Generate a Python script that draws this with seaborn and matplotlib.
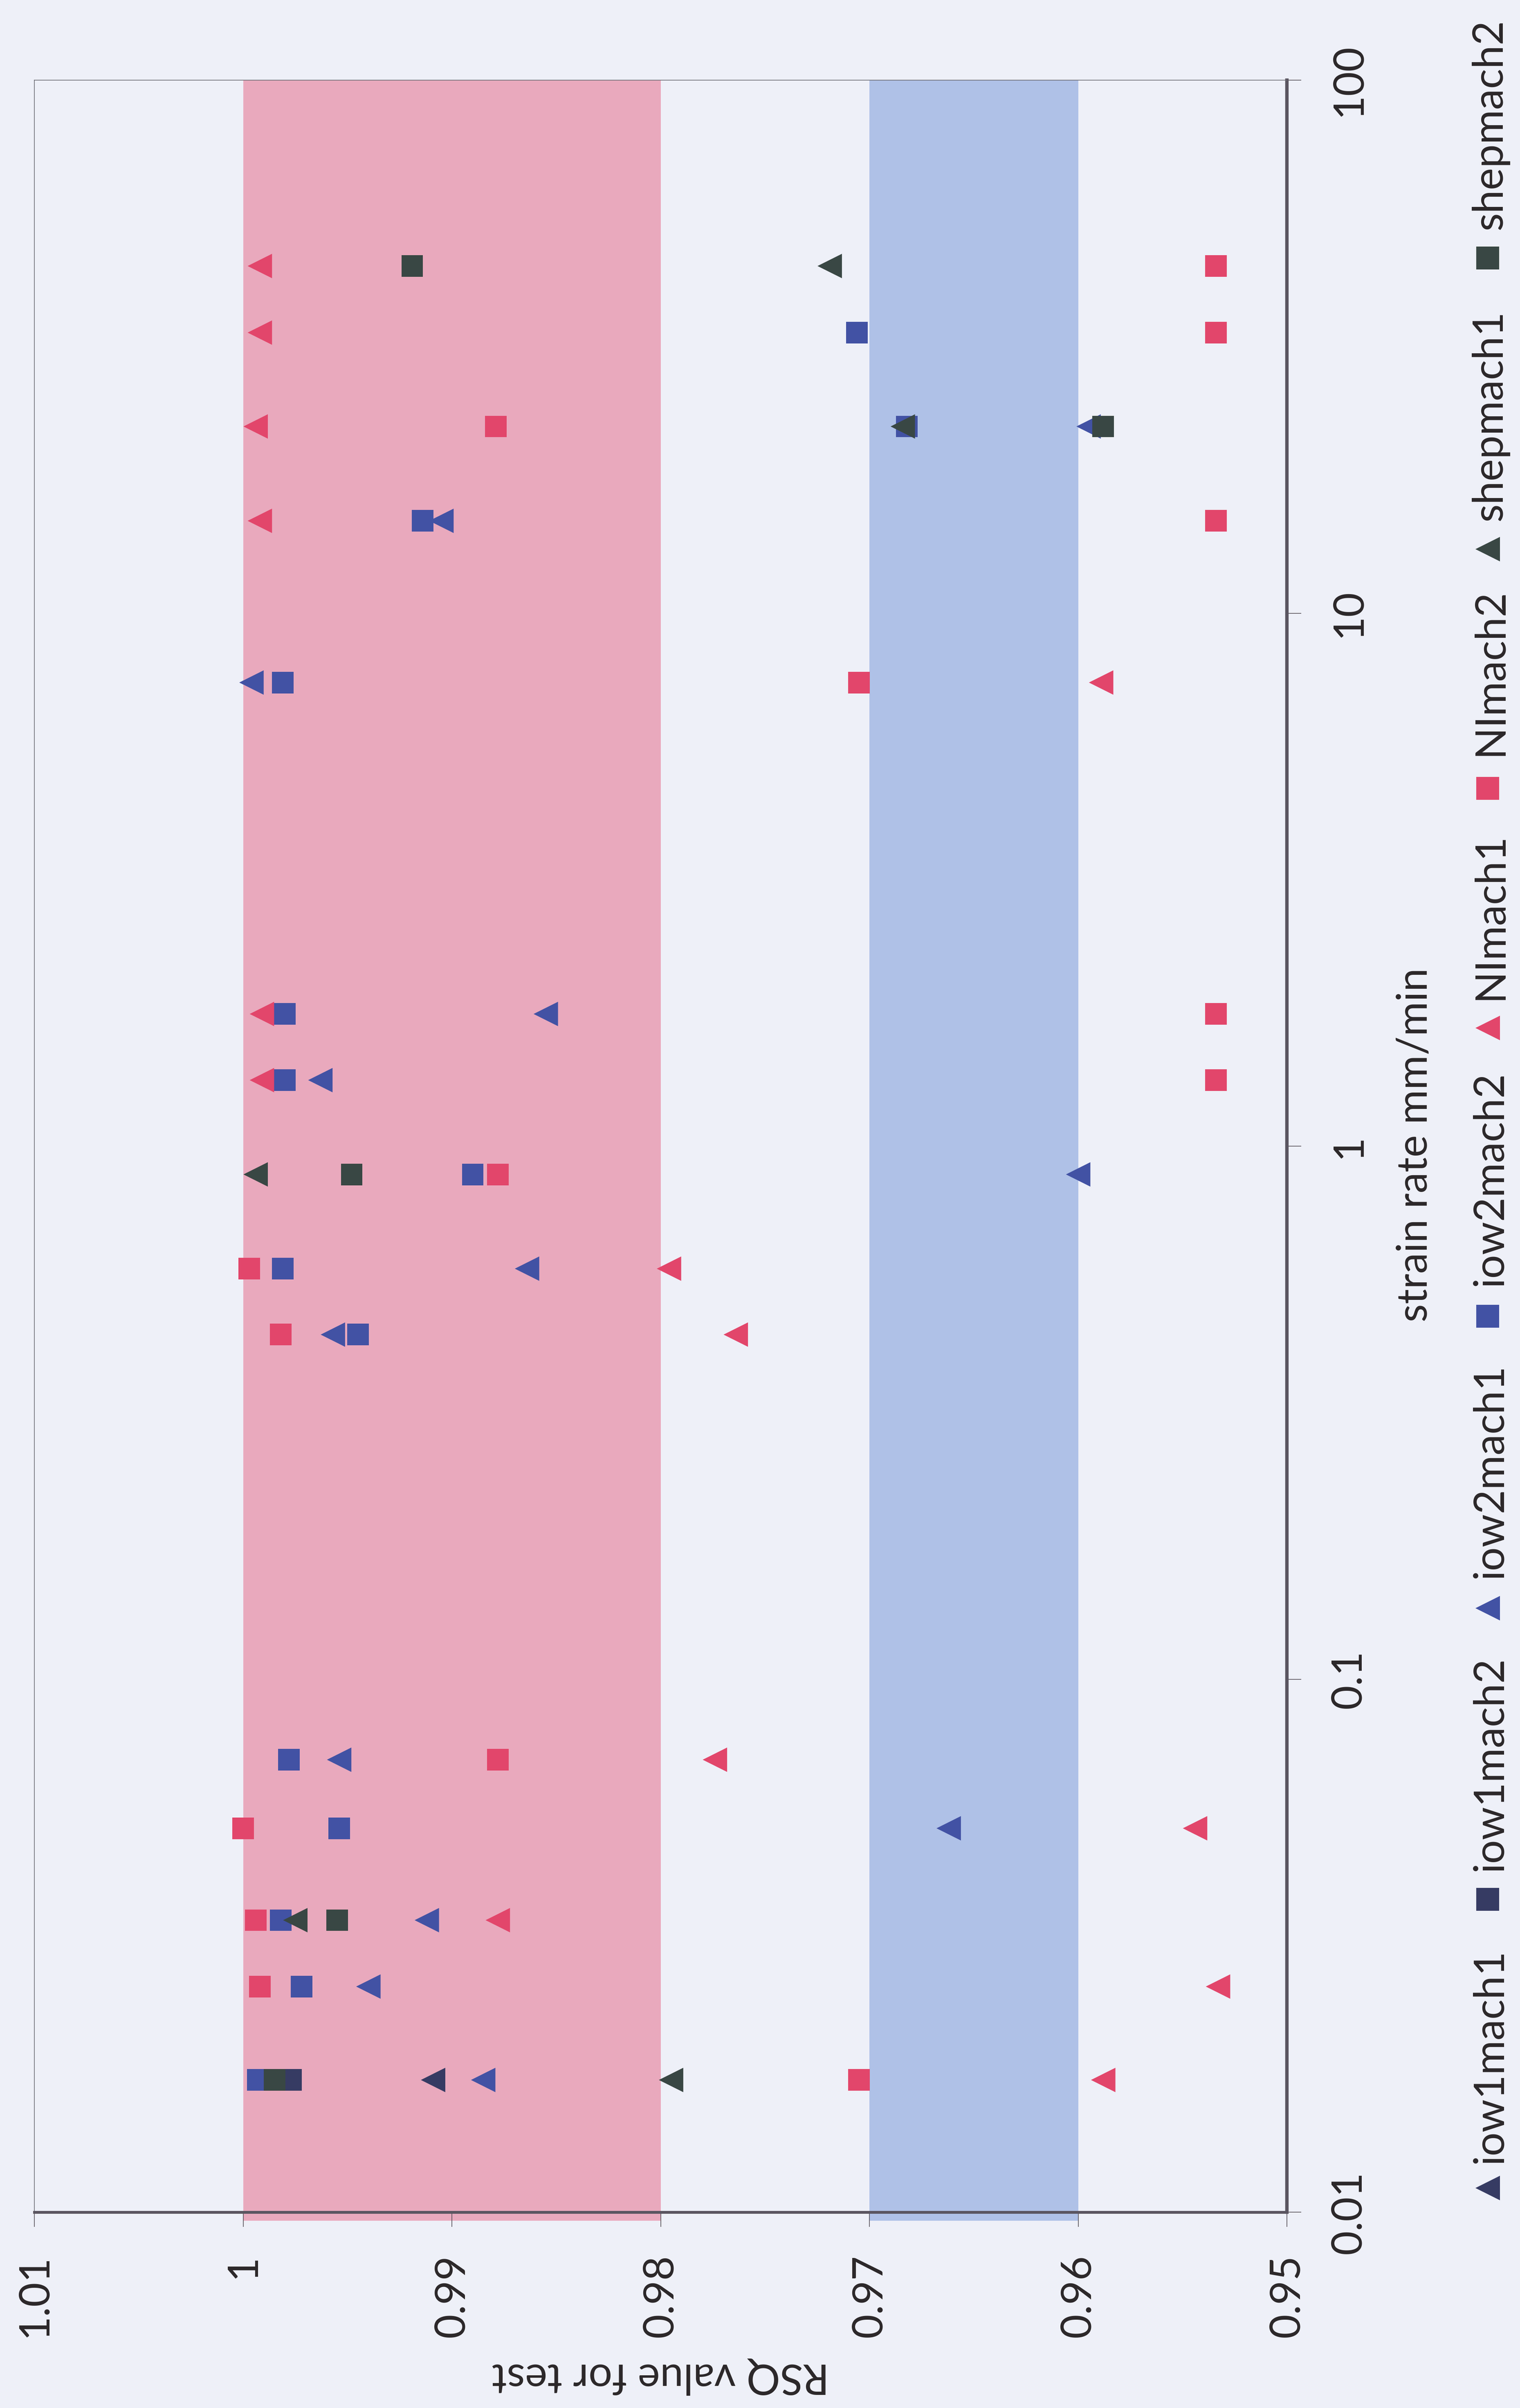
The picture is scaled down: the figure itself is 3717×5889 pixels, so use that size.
import matplotlib
matplotlib.use("Agg")
import matplotlib.pyplot as plt
from matplotlib.lines import Line2D
from matplotlib.ticker import NullLocator
import pandas as pd
import seaborn as sns

# ---- data: strain rate (mm/min) and RSQ value of each test, per series ----
iow1mach1_rate = [0.0177]
iow1mach1_rsq = [0.9909]

iow1mach2_rate = [0.0177]
iow1mach2_rsq = [0.9977]

iow2mach1_rate = [0.0177, 0.0265, 0.0353, 0.0525, 0.0706, 0.443, 0.589, 0.885,
                  1.33, 1.77, 7.41, 14.9, 22.4]
iow2mach1_rsq = [0.9885, 0.9940, 0.9912, 0.9662, 0.9954, 0.9957, 0.9864, 0.9600,
                 0.9963, 0.9855, 0.9996, 0.9905, 0.9595]

iow2mach2_rate = [0.0177, 0.0265, 0.0353, 0.0525, 0.0706, 0.443, 0.589, 0.885,
                  1.33, 1.77, 7.41, 14.9, 22.4, 33.6]
iow2mach2_rsq = [0.9993, 0.9972, 0.9982, 0.9954, 0.9978, 0.9945, 0.9981, 0.9890,
                 0.9980, 0.9980, 0.9981, 0.9914, 0.9682, 0.9706]

NImach1_rate = [0.0177, 0.0265, 0.0353, 0.0525, 0.0706, 0.443, 0.589, 1.33,
                1.77, 7.41, 14.9, 22.4, 33.6, 44.8]
NImach1_rsq = [0.9588, 0.9533, 0.9878, 0.9544, 0.9774, 0.9764, 0.9796, 0.9991,
               0.9991, 0.9589, 0.9992, 0.9994, 0.9992, 0.9992]

NImach2_rate = [0.0177, 0.0265, 0.0353, 0.0525, 0.0706, 0.443, 0.589, 0.885,
                1.33, 1.77, 7.41, 14.9, 22.4, 33.6, 44.8]
NImach2_rsq = [0.9705, 0.9992, 0.9994, 1.0000, 0.9878, 0.9982, 0.9997, 0.9878,
               0.9534, 0.9534, 0.9705, 0.9534, 0.9879, 0.9534, 0.9534]

shepmach1_rate = [0.0177, 0.0353, 0.885, 22.4, 44.8]
shepmach1_rsq = [0.9795, 0.9975, 0.9994, 0.9684, 0.9719]

shepmach2_rate = [0.0177, 0.0353, 0.885, 22.4, 44.8]
shepmach2_rsq = [0.9985, 0.9955, 0.9948, 0.9588, 0.9919]

series_names = ["iow1mach1", "iow1mach2", "iow2mach1", "iow2mach2",
                "NImach1", "NImach2", "shepmach1", "shepmach2"]

x_ticks = [1.01, 1.0, 0.99, 0.98, 0.97, 0.96, 0.95]
x_tick_labels = ["1.01", "1", "0.99", "0.98", "0.97", "0.96", "0.95"]
y_ticks = [0.01, 0.1, 1, 10, 100]
y_tick_labels = ["0.01", "0.1", "1", "10", "100"]

# bands of "good" (pink) and "acceptable" (blue) fit quality
pink_band = (0.98, 1.0)
blue_band = (0.96, 0.97)

# ---- long table for seaborn ----
columns = {
    "iow1mach1": (iow1mach1_rate, iow1mach1_rsq),
    "iow1mach2": (iow1mach2_rate, iow1mach2_rsq),
    "iow2mach1": (iow2mach1_rate, iow2mach1_rsq),
    "iow2mach2": (iow2mach2_rate, iow2mach2_rsq),
    "NImach1": (NImach1_rate, NImach1_rsq),
    "NImach2": (NImach2_rate, NImach2_rsq),
    "shepmach1": (shepmach1_rate, shepmach1_rsq),
    "shepmach2": (shepmach2_rate, shepmach2_rsq),
}
frames = [pd.DataFrame({"series": name, "rate": r, "rsq": q})
          for name, (r, q) in columns.items()]
df = pd.concat(frames, ignore_index=True)

NAVY = "#363b63"
BLUE = "#4252a4"
RED = "#e2466b"
SLATE = "#394744"
palette = {"iow1mach1": NAVY, "iow1mach2": NAVY, "iow2mach1": BLUE, "iow2mach2": BLUE,
           "NImach1": RED, "NImach2": RED, "shepmach1": SLATE, "shepmach2": SLATE}
markers = {n: ("<" if n.endswith("1") else "s") for n in series_names}
sizes = {n: (1850 if markers[n] == "<" else 1450) for n in series_names}

# ---- style ----
sns.set_style("ticks")
plt.rcParams["font.family"] = ["Lato", "DejaVu Sans"]
TEXT = "#2b2729"
BG = "#eef0f8"

W, H = 3717, 5889
fig = plt.figure(figsize=(W / 100, H / 100), dpi=100, facecolor=BG)

ax_left, ax_right, ax_top, ax_bottom = 84, 3147, 196, 5410
ax = fig.add_axes([ax_left / W, 1 - ax_bottom / H,
                   (ax_right - ax_left) / W, (ax_bottom - ax_top) / H])
ax.set_facecolor(BG)

ax.axvspan(*pink_band, ymin=-0.004, ymax=1, color="#e9a9bd", lw=0, zorder=0, clip_on=False)
ax.axvspan(*blue_band, ymin=-0.004, ymax=1, color="#afc1e7", lw=0, zorder=0, clip_on=False)

sns.scatterplot(data=df, x="rsq", y="rate", hue="series", style="series", size="series",
                hue_order=series_names, style_order=series_names, size_order=series_names,
                palette=palette, markers=markers, sizes=sizes, linewidth=0,
                legend=False, ax=ax, zorder=3)

ax.set_yscale("log")
ax.set_xlim(1.01, 0.95)
ax.set_ylim(0.01, 100)
ax.set_xlabel("")
ax.set_ylabel("")

ax.set_xticks(x_ticks, x_tick_labels, rotation=90, va="top", ha="center")
ax.yaxis.tick_right()
ax.set_yticks(y_ticks, y_tick_labels, rotation=90, va="center", ha="left")
ax.yaxis.set_minor_locator(NullLocator())
ax.xaxis.set_minor_locator(NullLocator())

ax.tick_params(axis="x", direction="out", length=26, width=1.2, pad=48,
               labelsize=74, colors="#555058", labelcolor=TEXT)
ax.tick_params(axis="y", direction="out", length=25, width=1.2, pad=50,
               labelsize=74, colors="#555058", labelcolor=TEXT,
               right=True, left=False, labelright=True, labelleft=False)

for side in ("top", "left"):
    ax.spines[side].set_linewidth(1.2)
    ax.spines[side].set_color("#6a6a72")
ax.spines["right"].set_linewidth(6)
ax.spines["right"].set_color("#5a5560")
ax.spines["bottom"].set_linewidth(5)
ax.spines["bottom"].set_color("#5a5560")

# axis titles
fig.text(1615 / W, 1 - 5810 / H, "RSQ value for test", rotation=180,
         ha="center", va="center", fontsize=74, color=TEXT)
fig.text(3460 / W, 1 - 2800 / H, "strain rate mm/min", rotation=90,
         ha="center", va="center", fontsize=74, color=TEXT)

# legend down the right edge, read from bottom to top
legend_marker_y = [5351, 4645, 3933, 3219, 2514, 1928, 1343, 631]
legend_text_y = [5291, 4576, 3860, 3145, 2445, 1848, 1274, 562]
for name, my, ty in zip(series_names, legend_marker_y, legend_text_y):
    ms = 43 if markers[name] == "<" else 41
    fig.add_artist(Line2D([3638 / W], [1 - my / H], transform=fig.transFigure,
                          marker=markers[name], markersize=ms, linestyle="none",
                          markerfacecolor=palette[name], markeredgewidth=0))
    fig.text(3673 / W, 1 - ty / H, name, rotation=90, rotation_mode="anchor",
             ha="left", va="baseline", fontsize=74, color=TEXT)

fig.savefig("out.png", dpi=100, facecolor=BG)
